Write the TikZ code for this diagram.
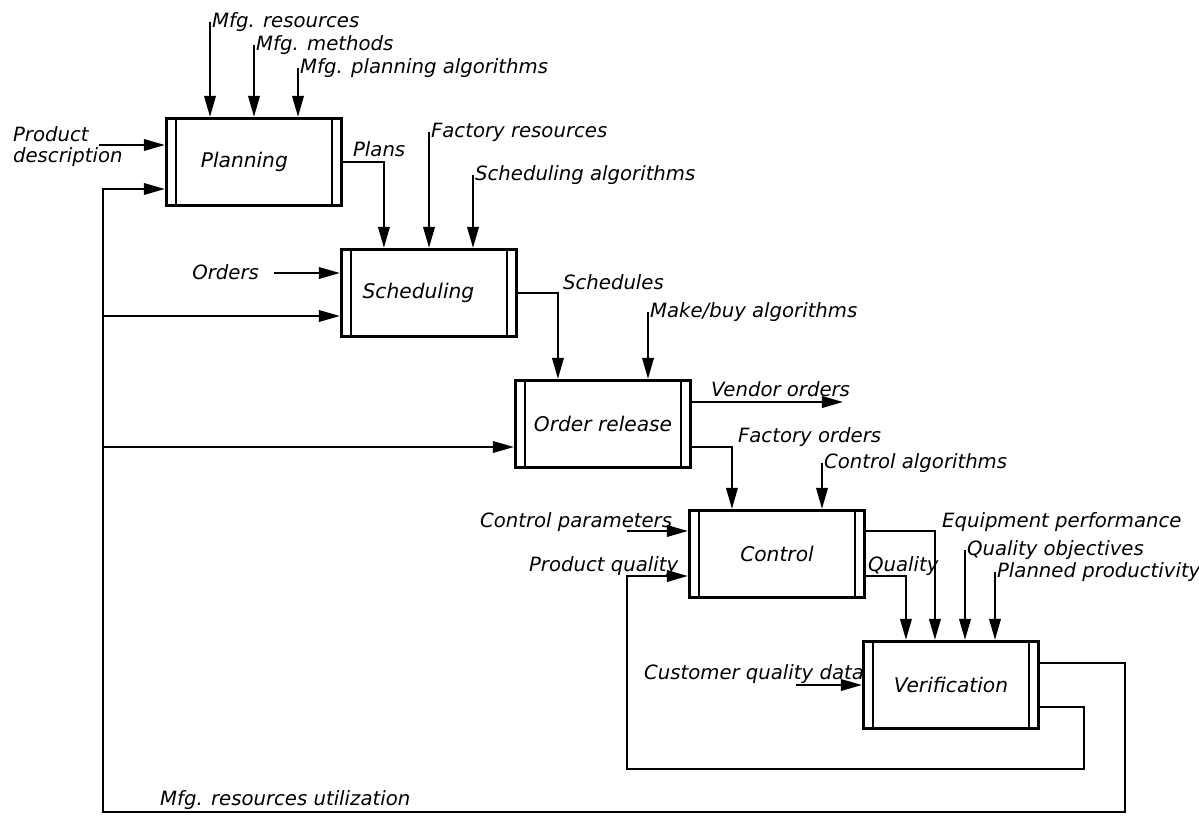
\documentclass[tikz,border=0pt]{standalone}
\usepackage{fontspec}
\setmainfont{DejaVu Sans}
\usetikzlibrary{calc}
\usetikzlibrary{arrows.meta}
\tikzset{
  act/.style= {draw, line width=1.8pt, minimum width=3.5cm, minimum height=1.74cm,
    inner sep=0, font=\fontsize{11.5}{12}\selectfont\itshape,
    path picture={\draw[line width=1.2pt]
      ([xshift=5.4pt]path picture bounding box.north west) -- ([xshift=5.4pt]path picture bounding box.south west)
      ([xshift=-5.4pt]path picture bounding box.north east) -- ([xshift=-5.4pt]path picture bounding box.south east);}},
  lbl/.style= {inner xsep=1pt, inner ysep=0pt, font=\fontsize{11.2}{12}\selectfont\itshape},
  flow/.style= {line width=1.3pt, -{Triangle[length=12pt,width=6.5pt]}},
}

\begin{document}
\begin{tikzpicture}[x=0.02cm, y=-0.02cm]
  \useasboundingbox (0,0) rectangle (1199,825);

  \node [act] (plan)  at (254,162) {\hspace*{-11pt}Planning} ;
  \node [act] (sched) at (429,293) {\hspace*{-12pt}Scheduling} ;
  \node [act] (orel)  at (603,424) {Order release} ;
  \node [act] (ctrl)  at (777,554) {Control} ;
  \node [act] (verif) at (951,685) {Verification} ;

  % controls from above
  \node [lbl, anchor=south west] (lres)  at (210,32)  {Mfg. resources} ;
  \node [lbl, anchor=south west] (lmet)  at (254,55)  {Mfg. methods} ;
  \node [lbl, anchor=south west] (lpla)  at (298,78)  {Mfg. planning algorithms} ;
  \node [lbl, anchor=south west] (lfres) at (429,142) {Factory resources} ;
  \node [lbl, anchor=south west] (lsalg) at (473,185) {Scheduling algorithms} ;
  \node [lbl, anchor=west]       (lmbuy) at (648,312) {Make/buy algorithms} ;
  \node [lbl, anchor=west]       (lcalg) at (822,463) {Control algorithms} ;
  \node [lbl, anchor=south west] (lqobj) at (965,560) {Quality objectives} ;
  \node [lbl, anchor=south west] (lpprod) at (995,582) {Planned productivity} ;

  \foreach \l/\b in {lres/plan, lmet/plan, lpla/plan, lfres/sched, lsalg/sched,
                     lmbuy/orel, lcalg/ctrl, lqobj/verif, lpprod/verif}
    \draw [flow] (\l.south west |- \l.west) -- (\l.west |- \b.north) ;

  % inputs from the left
  \node [lbl, anchor=west, align=left] (ldesc) at (11,147) {Product\\description} ;
  \node [lbl, anchor=east] (lord)  at (261,272) {Orders} ;
  \node [lbl, anchor=west] (lcpar) at (478,522) {Control parameters} ;
  \node [lbl, anchor=west] (lpq)   at (527,566) {Product quality} ;
  \node [lbl, anchor=west] (lcqd)  at (642,674) {Customer quality data} ;

  \coordinate (p1) at ($(plan.west)+(0,-17)$) ;
  \coordinate (p2) at ($(plan.west)+(0,27)$) ;
  \coordinate (s1) at ($(sched.west)+(0,-20)$) ;
  \coordinate (s2) at ($(sched.west)+(0,23)$) ;
  \coordinate (o2) at ($(orel.west)+(0,23)$) ;
  \coordinate (c1) at ($(ctrl.west)+(0,-23)$) ;
  \coordinate (c2) at ($(ctrl.west)+(0,22)$) ;

  \draw [flow] ($(p1)+(-66,0)$) -- (p1) ;
  \draw [flow] ($(s1)+(-66,0)$) -- (s1) ;
  \draw [flow] ($(verif.west)+(-66,0)$) -- (verif.west) ;

  % outputs
  \node [lbl, anchor=west] (lplans) at (351,149) {Plans} ;
  \node [lbl, anchor=west] (lsched) at (561,282) {Schedules} ;
  \node [lbl, anchor=west] (lvend)  at (709,389) {Vendor orders} ;
  \node [lbl, anchor=west] (lford)  at (736,437) {Factory orders} ;
  \node [lbl, anchor=west] (lequip) at (940,522) {Equipment performance} ;
  \node [lbl, anchor=west] (lqual)  at (866,566) {Quality} ;
  \node [lbl, anchor=west] (lutil)  at (158,800) {Mfg. resources utilization} ;

  \draw [flow] (plan.east) -| ($(sched.north west)+(44,0)$) ;
  \draw [flow] (sched.east) -| ($(orel.north west)+(44,0)$) ;
  \draw [flow] ($(orel.east)+(0,-22)$) -- ++(151,0) coordinate (vend) ;
  \draw [flow] ($(orel.east)+(0,23)$) -| ($(ctrl.north west)+(44,0)$) ;
  \draw [flow] ($(ctrl.east)+(0,-23)$) -| ($(verif.north west)+(73,0)$) ;
  \draw [flow] ($(ctrl.east)+(0,22)$) -| ($(verif.north west)+(44,0)$) ;

  % feedback loops
  \coordinate (lb) at (627,769) ;
  \coordinate (fb) at (103,812) ;
  \draw [flow] ($(verif.east)+(0,22)$) -- ++(44,0) |- (lb) |- (c2) ;
  \draw [flow] (lb |- c1) -- (c1) ;
  \draw [flow] ($(verif.east)+(0,-22)$) -- ++(85,0) |- (fb) |- (p2) ;
  \draw [flow] (fb |- s2) -- (s2) ;
  \draw [flow] (fb |- o2) -- (o2) ;
\end{tikzpicture}
\end{document}
